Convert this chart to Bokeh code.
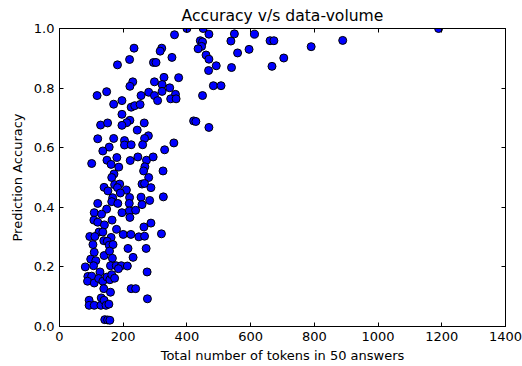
from bokeh.plotting import figure
from bokeh.models import Range1d, LinearAxis, FixedTicker, PrintfTickFormatter
from bokeh.embed import file_html
from bokeh.resources import INLINE

# ---- data ----
tokens = [400, 361, 234, 321, 316, 220, 353, 295, 303, 182,
          328, 374, 298, 230, 221, 322, 346, 322, 280, 256,
          298, 148, 118, 364, 349, 366, 308, 170, 196, 225,
          236, 253, 196, 221, 211, 196, 266, 129, 151, 244,
          279, 267, 120, 170, 204, 204, 225, 261, 359, 156,
          136, 330, 421, 428, 149, 180, 246, 222, 273, 294,
          101, 162, 186, 268, 264, 325, 171, 164, 280, 259,
          267, 287, 140, 173, 189, 182, 152, 210, 191, 167,
          220, 256, 164, 183, 219, 259, 283, 326, 120, 148,
          219, 239, 196, 109, 132, 221, 108, 120, 141, 165,
          179, 124, 136, 265, 287, 320, 95, 111, 162, 200,
          224, 249, 267, 105, 139, 150, 156, 168, 215, 272,
          109, 140, 157, 166, 231, 98, 114, 81, 107, 160,
          178, 194, 213, 185, 127, 275, 89, 101, 88, 109,
          123, 136, 149, 158, 164, 173, 139, 160, 225, 239,
          93, 93, 109, 131, 130, 140, 146, 155, 276, 142,
          151, 158, 451, 469, 549, 612, 661, 673, 889, 790,
          442, 449, 446, 435, 538, 595, 559, 460, 469, 704,
          492, 540, 667, 468, 483, 507, 449, 469, 1190]
accuracy = [1.0, 0.979, 0.934, 0.934, 0.924, 0.896, 0.903, 0.886, 0.886, 0.878,
            0.836, 0.835, 0.821, 0.821, 0.806, 0.812, 0.801, 0.789, 0.786, 0.775,
            0.775, 0.788, 0.775, 0.779, 0.764, 0.764, 0.758, 0.746, 0.758, 0.736,
            0.741, 0.745, 0.712, 0.692, 0.684, 0.675, 0.683, 0.676, 0.683, 0.659,
            0.640, 0.631, 0.630, 0.631, 0.624, 0.609, 0.610, 0.610, 0.616, 0.602,
            0.589, 0.593, 0.690, 0.688, 0.558, 0.567, 0.569, 0.557, 0.558, 0.569,
            0.547, 0.544, 0.535, 0.536, 0.522, 0.522, 0.512, 0.500, 0.500, 0.478,
            0.480, 0.466, 0.467, 0.476, 0.478, 0.466, 0.455, 0.458, 0.448, 0.432,
            0.433, 0.434, 0.419, 0.413, 0.413, 0.409, 0.423, 0.435, 0.413, 0.394,
            0.388, 0.390, 0.382, 0.382, 0.377, 0.366, 0.357, 0.350, 0.341, 0.357,
            0.326, 0.317, 0.317, 0.334, 0.347, 0.311, 0.302, 0.302, 0.299, 0.309,
            0.309, 0.301, 0.303, 0.275, 0.288, 0.286, 0.273, 0.275, 0.262, 0.262,
            0.249, 0.238, 0.253, 0.229, 0.232, 0.226, 0.221, 0.200, 0.204, 0.204,
            0.204, 0.204, 0.203, 0.194, 0.183, 0.183, 0.168, 0.169, 0.152, 0.146,
            0.161, 0.152, 0.166, 0.157, 0.174, 0.162, 0.127, 0.115, 0.127, 0.127,
            0.088, 0.071, 0.071, 0.096, 0.071, 0.088, 0.071, 0.075, 0.093, 0.023,
            0.022, 0.021, 1.0, 0.981, 0.982, 0.981, 0.959, 0.959, 0.960, 0.939,
            0.959, 0.955, 0.940, 0.932, 0.958, 0.930, 0.918, 0.911, 0.897, 0.901,
            0.875, 0.869, 0.873, 0.859, 0.808, 0.808, 0.775, 0.668, 1.0]

x_ticks = [0, 200, 400, 600, 800, 1000, 1200, 1400]
y_ticks = [0.0, 0.2, 0.4, 0.6, 0.8, 1.0]

title_text = "Accuracy v/s data-volume"
x_label = "Total number of tokens in 50 answers"
y_label = "Prediction Accuracy"

FONT = "DejaVu Sans"

p = figure(width=522, height=366, output_backend="svg", toolbar_location=None,
           x_range=Range1d(0, 1400), y_range=Range1d(0, 1.0),
           min_border_left=59, min_border_right=17, min_border_top=28,
           min_border_bottom=40, x_axis_type=None, y_axis_type=None)

p.title.text = title_text
p.title.align = "center"
p.title.text_font = FONT
p.title.text_font_size = "15.6px"
p.title.text_font_style = "normal"
p.title.text_color = "black"
p.title.standoff = 7

p.grid.visible = False
p.outline_line_color = "black"
p.outline_line_width = 1
p.outline_line_alpha = 1.0
p.background_fill_color = "white"
p.border_fill_color = "white"


def make_axis(ticks, labelled, fmt=None):
    ax = LinearAxis(ticker=FixedTicker(ticks=ticks))
    ax.major_tick_in = 4
    ax.major_tick_out = 0
    ax.minor_tick_in = 0
    ax.minor_tick_out = 0
    ax.major_tick_line_color = "black"
    ax.axis_line_color = "black"
    if fmt is not None:
        ax.formatter = fmt
    if labelled:
        ax.major_label_text_font = FONT
        ax.major_label_text_font_size = "13px"
        ax.major_label_text_color = "black"
        ax.major_label_standoff = 5
        ax.axis_label_text_font = FONT
        ax.axis_label_text_font_size = "13px"
        ax.axis_label_text_font_style = "normal"
        ax.axis_label_text_color = "black"
    else:
        ax.major_label_text_font_size = "0px"
        ax.major_label_standoff = 0
        ax.major_label_text_alpha = 0
    return ax


xb = make_axis(x_ticks, True)
xb.axis_label = x_label
xb.axis_label_standoff = 4
p.add_layout(xb, "below")

yl = make_axis(y_ticks, True, PrintfTickFormatter(format="%.1f"))
yl.axis_label = y_label
yl.axis_label_standoff = 6
p.add_layout(yl, "left")

xt = make_axis(x_ticks, False)
p.add_layout(xt, "above")
yr = make_axis(y_ticks, False)
p.add_layout(yr, "right")

p.scatter(tokens, accuracy, size=8, marker="circle",
          fill_color="#0000ff", line_color="black", line_width=1)

open("out.html", "w").write(file_html(p, INLINE))
